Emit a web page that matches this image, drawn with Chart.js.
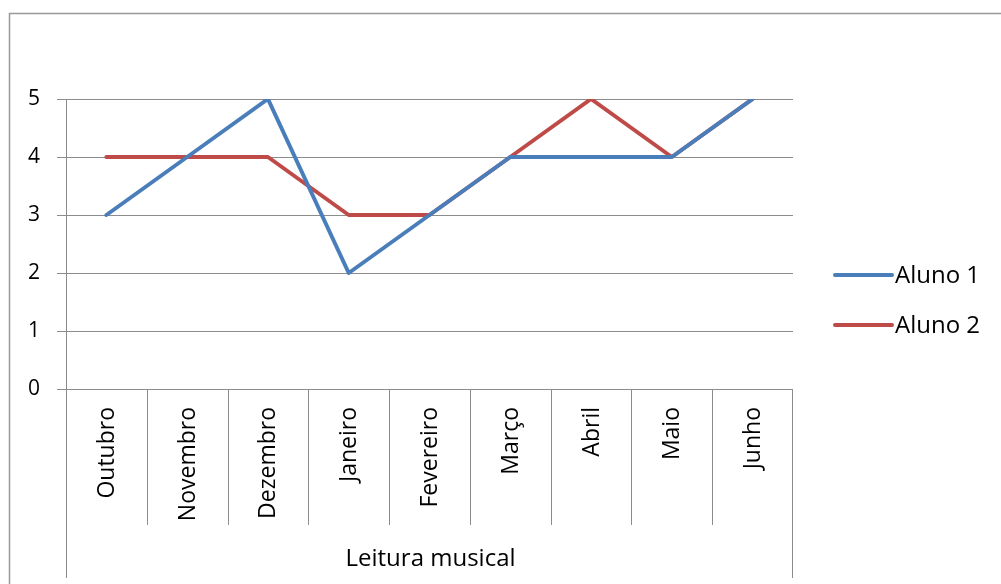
<!DOCTYPE html>
<html>
<head>
<meta charset="utf-8">
<script src="https://cdn.jsdelivr.net/npm/chart.js@4.4.0/dist/chart.umd.min.js"></script>
<style>
  html, body { margin: 0; padding: 0; background: #fff; }
  #wrap { width: 1001px; height: 584px; }
  canvas { display: block; }
</style>
</head>
<body>
<div id="wrap"><canvas id="grafico" width="1001" height="584"></canvas></div>
<script>
// Avaliação mensal de leitura musical
const meses = ['Outubro', 'Novembro', 'Dezembro', 'Janeiro', 'Fevereiro', 'Março', 'Abril', 'Maio', 'Junho'];
const aluno1 = [3, 4, 5, 2, 3, 4, 4, 4, 5];
const aluno2 = [4, 4, 4, 3, 3, 4, 5, 4, 5];
const notasEixo = [0, 1, 2, 3, 4, 5];
const tituloCategorias = 'Leitura musical';
const nomesSeries = ['Aluno 1', 'Aluno 2'];
const coresSeries = ['#4a7ebb', '#be4b48'];

const FONTE = '"Open Sans", "Noto Sans", sans-serif';
const TAM_EIXO_Y = 21;
const TAM_MESES = 23;
const TAM_TEXTO = 24;
const CINZA = '#8c8c8c';

// Moldura, eixo de categorias em dois níveis e legenda ao estilo de planilha
const molduraPlanilha = {
  id: 'molduraPlanilha',
  beforeDraw(chart) {
    const ctx = chart.ctx;
    ctx.save();
    ctx.fillStyle = '#fff';
    ctx.fillRect(0, 0, chart.width, chart.height);
    ctx.strokeStyle = '#999';
    ctx.lineWidth = 1.5;
    ctx.strokeRect(9.5, 13.5, chart.width + 20, chart.height + 20);
    ctx.restore();
  },
  afterDraw(chart) {
    const ctx = chart.ctx;
    const x = chart.scales.x;
    const area = chart.chartArea;
    const n = meses.length;
    ctx.save();
    ctx.strokeStyle = CINZA;
    ctx.lineWidth = 1;

    // linhas externas do eixo de categorias
    ctx.beginPath();
    ctx.moveTo(Math.round(area.left) + 0.5, area.bottom);
    ctx.lineTo(Math.round(area.left) + 0.5, 578);
    ctx.moveTo(Math.round(area.right) - 0.5, area.bottom);
    ctx.lineTo(Math.round(area.right) - 0.5, 578);
    // separadores entre meses
    for (let i = 0; i < n - 1; i++) {
      const b = Math.round((x.getPixelForValue(i) + x.getPixelForValue(i + 1)) / 2) + 0.5;
      ctx.moveTo(b, area.bottom);
      ctx.lineTo(b, 525);
    }
    ctx.stroke();

    // rótulos dos meses, na vertical
    ctx.fillStyle = '#000';
    ctx.font = TAM_MESES + 'px ' + FONTE;
    ctx.textAlign = 'right';
    ctx.textBaseline = 'middle';
    meses.forEach((m, i) => {
      ctx.save();
      ctx.translate(x.getPixelForValue(i) + 1, 407);
      ctx.rotate(-Math.PI / 2);
      ctx.fillText(m, 0, 0);
      ctx.restore();
    });

    // título do grupo de categorias
    ctx.font = TAM_TEXTO + 'px ' + FONTE;
    ctx.textAlign = 'center';
    ctx.fillText(tituloCategorias, (area.left + area.right) / 2 + 1, 559);

    // legenda
    const ys = [276, 326];
    nomesSeries.forEach((nome, i) => {
      ctx.strokeStyle = coresSeries[i];
      ctx.lineWidth = 4;
      ctx.lineCap = 'round';
      ctx.beginPath();
      ctx.moveTo(835, ys[i] - 1);
      ctx.lineTo(892, ys[i] - 1);
      ctx.stroke();
      ctx.fillStyle = '#000';
      ctx.textAlign = 'left';
      ctx.fillText(nome, 895, ys[i]);
    });
    ctx.restore();
  }
};

new Chart(document.getElementById('grafico'), {
  type: 'line',
  data: {
    labels: meses,
    datasets: [
      { label: nomesSeries[0], data: aluno1, borderColor: coresSeries[0], backgroundColor: coresSeries[0] },
      { label: nomesSeries[1], data: aluno2, borderColor: coresSeries[1], backgroundColor: coresSeries[1] }
    ]
  },
  options: {
    responsive: false,
    animation: false,
    devicePixelRatio: 1,
    layout: { padding: { left: 10, top: 99, right: 208, bottom: 0 } },
    elements: {
      line: { borderWidth: 4, tension: 0, borderJoinStyle: 'round', borderCapStyle: 'round', fill: false },
      point: { radius: 0, hoverRadius: 0 }
    },
    plugins: {
      legend: { display: false },
      tooltip: { enabled: false }
    },
    scales: {
      x: {
        type: 'category',
        offset: true,
        grid: { display: false },
        border: { display: false },
        ticks: { display: false },
        afterFit(s) { s.height = 195; }
      },
      y: {
        min: notasEixo[0],
        max: notasEixo[notasEixo.length - 1],
        afterBuildTicks(s) { s.ticks = notasEixo.map(v => ({ value: v })); },
        ticks: { color: '#000', font: { family: FONTE, size: TAM_EIXO_Y }, padding: 17 },
        grid: { color: CINZA, lineWidth: 1, tickLength: 9 },
        border: { color: CINZA, width: 1 },
        afterFit(s) { s.width = 56; }
      }
    }
  },
  plugins: [molduraPlanilha]
});
</script>
</body>
</html>
